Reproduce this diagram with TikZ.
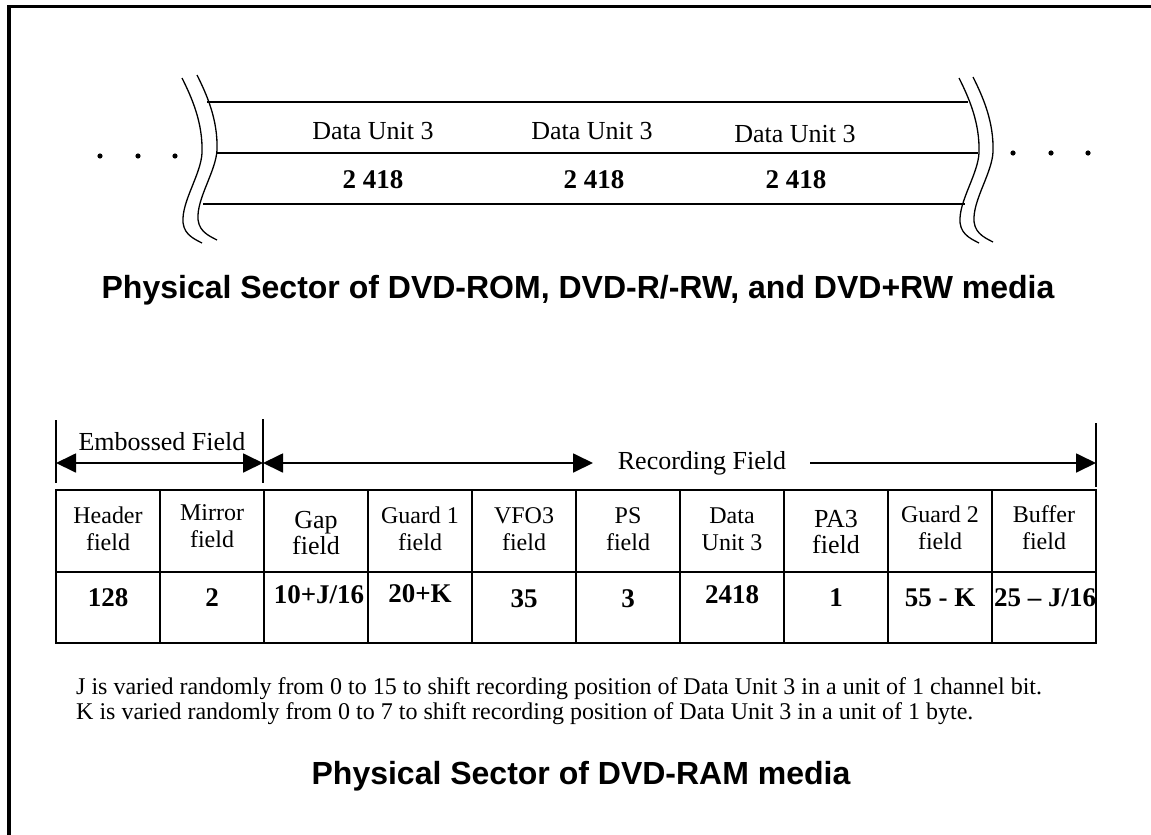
\documentclass[tikz,border=0pt]{standalone}
\usepackage{fontspec}
\setmainfont{Liberation Serif}
\newfontfamily\headfont{Liberation Sans}
\usetikzlibrary{arrows.meta}
\newcommand{\tearline}[1]{\draw[wave, shift={(#1)}] (0,0) .. controls (10,20) and (21,45) .. (20,75)
  .. controls (19,95) and (2,120) .. (1,140) .. controls (0,155) and (10,160) .. (20,165);}
\tikzset{
  wave/.style={line width=1.3pt},
  band/.style={line width=2.2pt},
  tbl/.style={line width=2.4pt},
  tick/.style={line width=2pt},
  dimline/.style={line width=1.8pt},
  bigtip/.tip={Triangle[length=20pt,width=19pt]},
  lbl/.style={inner sep=0pt, font=\fontsize{26}{30}\selectfont},
  num/.style={inner sep=0pt, font=\fontsize{27}{30}\selectfont\bfseries},
  hdr/.style={inner sep=0pt, align=center, font=\fontsize{24}{27}\selectfont},
  hdrbig/.style={inner sep=0pt, align=center, font=\fontsize{26}{26}\selectfont},
  note/.style={inner sep=0pt, anchor=west, font=\fontsize{24}{26}\selectfont},
  title/.style={inner sep=0pt, font=\headfont\bfseries\fontsize{32}{36}\selectfont}
}
\begin{document}
\begin{tikzpicture}[x=1pt, y=-1pt]
\useasboundingbox (0,0) rectangle (1151,835);
\draw[line width=3.5pt] (9,835) -- (9,6.5) -- (1151,6.5);
% top band with torn ends
\tearline{182,78}
\tearline{197,75}
\tearline{959,78}
\tearline{973,77}
\coordinate (tl) at (207,102);
\coordinate (tr) at (968,102);
\coordinate (ml) at (216,153);
\coordinate (mr) at (978,153);
\coordinate (bl) at (203,204);
\coordinate (br) at (965,204);
\draw[band] (tl) -- (tr);
\draw[band] (ml) -- (mr);
\draw[band] (bl) -- (br);
\foreach \x in {100,138,175} \fill (\x,156) circle (2.6pt);
\foreach \x in {1013,1051,1088} \fill (\x,153) circle (2.6pt);
\node[lbl] (du1) at (373,131) {Data Unit 3};
\node[lbl] (du2) at (592,131) {Data Unit 3};
\node[lbl] (du3) at (795,134) {Data Unit 3};
\node[num] (n1) at (373,180) {2 418};
\node[num] (n2) at (594,180) {2 418};
\node[num] (n3) at (796,180) {2 418};
\node[title] (t1) at (578,290) {Physical Sector of DVD-ROM, DVD-R/-RW, and DVD+RW media};
% field ranges
\coordinate (e1) at (56,463);
\coordinate (e2) at (263,463);
\coordinate (r1) at (593,463);
\coordinate (r2) at (810,463);
\coordinate (r3) at (1096,463);
\draw[tick] (56,420) -- (56,483);
\draw[tick] (263,419) -- (263,483);
\draw[tick] (1096,423) -- (1096,487);
\draw[dimline, bigtip-bigtip] (e1) -- (e2);
\draw[dimline, bigtip-bigtip] (e2) -- (r1);
\draw[dimline, -bigtip] (r2) -- (r3);
\node[lbl] (emb) at (162,442) {Embossed Field};
\node[lbl] (rec) at (702,463) {Recording Field};
% table
\draw[tbl] (56,490) rectangle (1096,643);
\draw[tbl] (56,572) -- (1096,572);
\foreach \x in {160,264,...,992} \draw[tbl] (\x,490) -- (\x,643);
\node[hdr] (h1) at (108,529) {Header\\field};
\node[hdr] (h2) at (212,526) {Mirror\\field};
\node[hdrbig] (h3) at (316,533) {Gap\\field};
\node[hdr] (h4) at (420,529) {Guard 1\\field};
\node[hdr] (h5) at (524,529) {VFO3\\field};
\node[hdr] (h6) at (628,529) {PS\\field};
\node[hdr] (h7) at (732,529) {Data\\Unit 3};
\node[hdrbig] (h8) at (836,532) {PA3\\field};
\node[hdr] (h9) at (940,528) {Guard 2\\field};
\node[hdr] (h10) at (1044,528) {Buffer\\field};
\node[num] (v1) at (108,598) {128};
\node[num] (v2) at (212,598) {2};
\node[num] (v3) at (319,595) {10+J/16};
\node[num] (v4) at (420,594) {20+K};
\node[num] (v5) at (524,599) {35};
\node[num] (v6) at (628,599) {3};
\node[num] (v7) at (732,595) {2418};
\node[num] (v8) at (836,598) {1};
\node[num] (v9) at (940,598) {55 - K};
\node[num] (v10) at (1045,598) {25 – J/16};
% notes
\node[note] (j) at (76,689) {J is varied randomly from 0 to 15 to shift recording position of Data Unit 3 in a unit of 1 channel bit.};
\node[note] (k) at (76,714) {K is varied randomly from 0 to 7 to shift recording position of Data Unit 3 in a unit of 1 byte.};
\node[title] (t2) at (581,776) {Physical Sector of DVD-RAM media};
\end{tikzpicture}
\end{document}
